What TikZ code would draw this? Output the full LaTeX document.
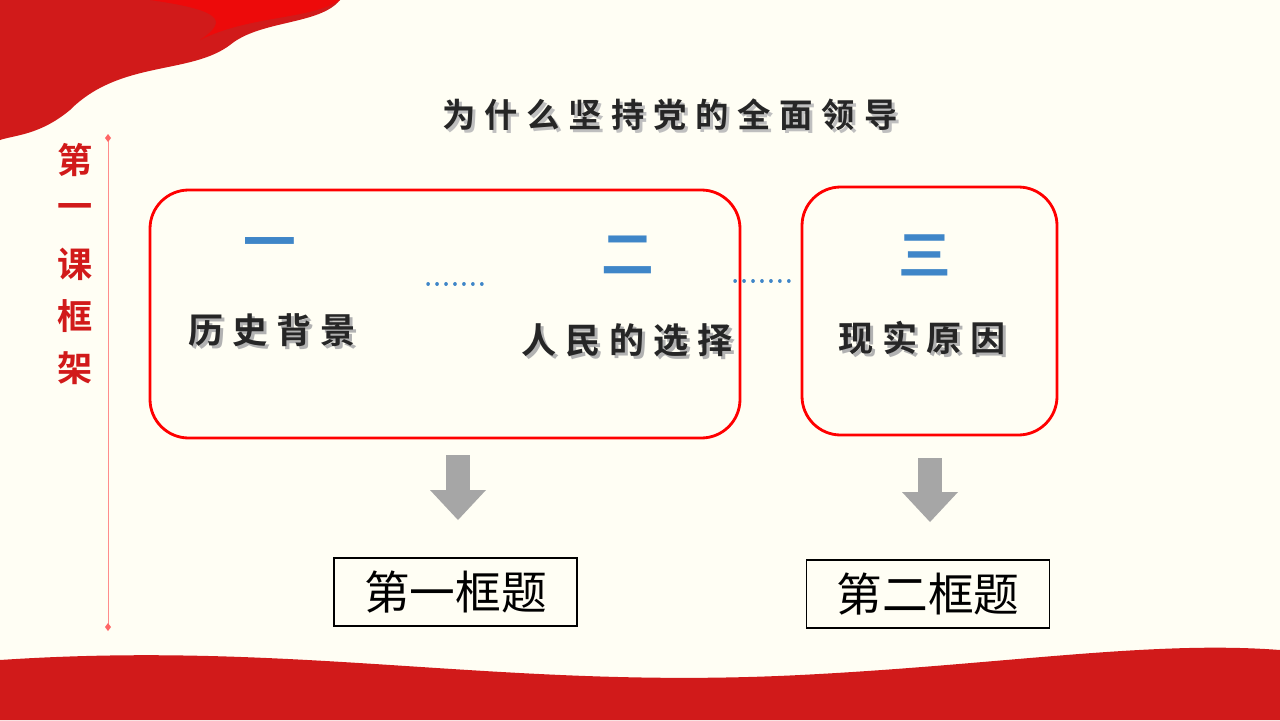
\documentclass[tikz,border=0pt]{standalone}
\usepackage{fontspec}
\newfontfamily\cjk{Noto Sans CJK SC}
\newfontfamily\cjkb{Noto Sans CJK SC Bold}
\definecolor{bgcream}{HTML}{FFFEF4}
\definecolor{flagred}{HTML}{D11A1A}
\definecolor{numblue}{HTML}{3F86C8}
\definecolor{arrgray}{HTML}{A6A6A6}
\tikzset{
  frame/.style={draw=red,line width=1.6pt,rounded corners=22pt},
  num/.style={text=numblue,font=\cjkb\fontsize{30}{30}\selectfont},
  topic/.style={text=black!85,font=\cjkb\fontsize{20}{20}\selectfont},
  shadowtext/.style={text=black!30,font=\cjkb\fontsize{20}{20}\selectfont},
  titlebox/.style={draw=black,line width=1pt,minimum width=4.86cm,minimum height=1.36cm,font=\cjk\fontsize{26}{26}\selectfont},
  dotline/.style={numblue,line width=2pt,dash pattern=on 0.1pt off 5pt,line cap=round},
  downarrow/.style={fill=arrgray}
}
\newcommand{\gp}{\hspace{5pt}}
\begin{document}
\begin{tikzpicture}[x=0.02cm,y=-0.02cm]
\fill[bgcream] (0,0) rectangle (1280,720);
\useasboundingbox (0,0) rectangle (1280,720);
% flag
\fill[flagred] (0,0) -- (340,0) .. controls (320,25) and (260,20) .. (230,45)
  .. controls (190,75) and (120,60) .. (70,110) .. controls (40,135) and (15,135) .. (0,140) -- cycle;
\fill[red!60!flagred] (150,0) -- (340,0) .. controls (310,20) and (250,15) .. (200,40) .. controls (230,20) and (220,10) .. (150,0) -- cycle;
% bottom wave
\fill[flagred] (0,660) .. controls (300,640) and (500,690) .. (800,675)
  .. controls (1000,665) and (1150,640) .. (1280,650) -- (1280,720) -- (0,720) -- cycle;
% side line
\draw[red!45] (108,138) -- (108,627);
\fill[red!60] (108,134) -- (111,138) -- (108,142) -- (105,138) -- cycle;
\fill[red!60] (108,623) -- (111,627) -- (108,631) -- (105,627) -- cycle;
\foreach \ch [count=\i] in {第,一,课,框,架}
  \node[text=flagred,font=\cjkb\fontsize{20}{20}\selectfont] (side\i) at (75,108+52*\i) {\ch};
% title
\node[text=black!25,font=\cjkb\fontsize{19}{19}\selectfont] at (673,118) {为\gp 什\gp 么\gp 坚\gp 持\gp 党\gp 的\gp 全\gp 面\gp 领\gp 导};
\node[text=black!85,font=\cjkb\fontsize{19}{19}\selectfont] (title) at (670,115) {为\gp 什\gp 么\gp 坚\gp 持\gp 党\gp 的\gp 全\gp 面\gp 领\gp 导};
% frames
\draw[frame] (150,190) rectangle (740,438);
\draw[frame] (802,187) rectangle (1057,435);
\node[num] (n1) at (270,250) {一};
\node[num] (n2) at (628,255) {二};
\node[num] (n3) at (925,255) {三};
\node[shadowtext] at (275,333) {历\gp 史\gp 背\gp 景};
\node[topic] (t1) at (272,330) {历\gp 史\gp 背\gp 景};
\node[shadowtext] at (630,343) {人\gp 民\gp 的\gp 选\gp 择};
\node[topic] (t2) at (627,340) {人\gp 民\gp 的\gp 选\gp 择};
\node[shadowtext] at (925,341) {现\gp 实\gp 原\gp 因};
\node[topic] (t3) at (922,338) {现\gp 实\gp 原\gp 因};
\draw[dotline] (428,284) -- (486,284);
\draw[dotline] (735,281) -- (792,281);
% arrows
\fill[downarrow] (446,455) rectangle (470,490);
\fill[downarrow] (430,490) -- (486,490) -- (458,520) -- cycle;
\fill[downarrow] (918,458) rectangle (942,492);
\fill[downarrow] (902,492) -- (958,492) -- (930,522) -- cycle;
% topic boxes
\node[titlebox] (b1) at (455.5,592) {第一框题};
\node[titlebox] (b2) at (928,594) {第二框题};
\end{tikzpicture}
\end{document}
